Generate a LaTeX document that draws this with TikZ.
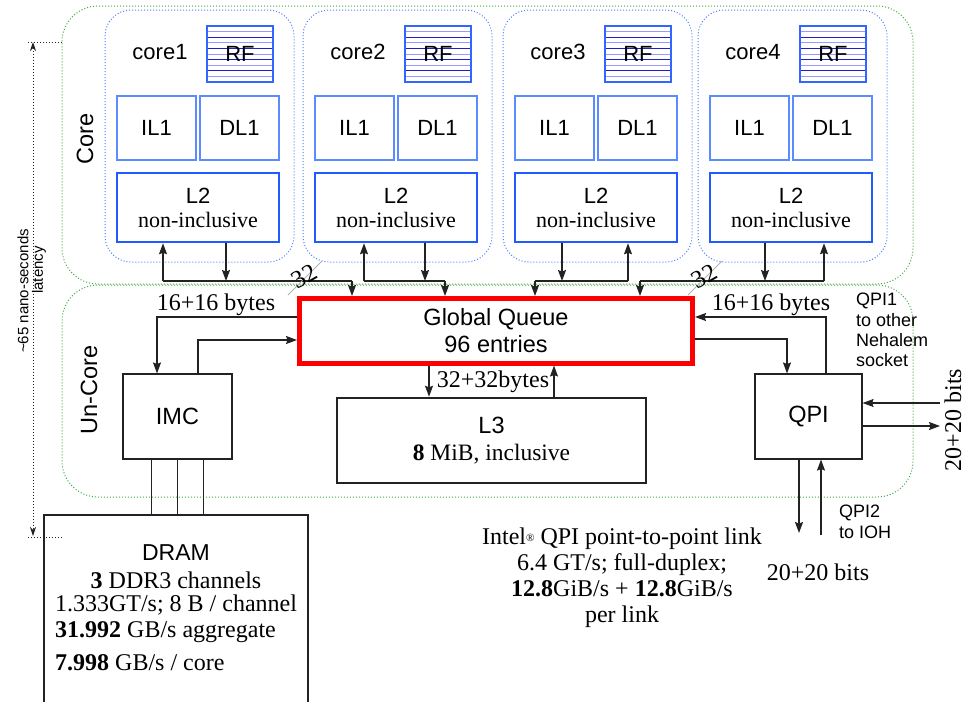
\documentclass[tikz,border=0pt]{standalone}
\usepackage{fontspec}
\setmainfont{Liberation Serif}
\setsansfont{Liberation Sans}
\usetikzlibrary{arrows.meta}
\definecolor{rgreen}{HTML}{3DAA3D}
\definecolor{cblue}{HTML}{4A7DFF}
\definecolor{l1blue}{HTML}{5B8CFF}
\definecolor{l2blue}{HTML}{1F5BFF}
\definecolor{rfblue}{HTML}{3366FF}
\definecolor{hlight}{HTML}{9999FF}
\definecolor{hdark}{HTML}{2020C8}
\definecolor{ink}{HTML}{222222}
\tikzset{
  every node/.style={inner sep=0pt},
  arr/.style={draw=ink, line width=1.2pt, -{Stealth[length=11pt,width=8pt,inset=1.5pt]}},
  ln/.style={draw=ink, line width=1.2pt},
  region/.style={draw=rgreen, dotted, line width=1pt, rounded corners=36pt},
  corebox/.style={draw=cblue, dotted, line width=1pt, rounded corners=26pt},
  lonebox/.style={draw=l1blue, line width=1.5pt},
  ltwobox/.style={draw=l2blue, line width=2.5pt},
  plainbox/.style={draw=ink, line width=1.1pt},
  heavybox/.style={draw=ink, line width=2.5pt},
  sftxt/.style={font=\sffamily\fontsize{22}{26}\selectfont},
  bigsf/.style={font=\sffamily\fontsize{23.5}{27}\selectfont},
  sertxt/.style={font=\fontsize{24}{26}\selectfont},
  smalltxt/.style={font=\sffamily\fontsize{18}{20.3}\selectfont},
  slash/.style={draw=black!30, line width=0.8pt},
  latency/.style={draw=ink, dotted, line width=1pt},
}
\begin{document}
\begin{tikzpicture}[x=1pt,y=-1pt]
\useasboundingbox (0,0) rectangle (973,702);

% regions
\node[region, minimum width=851, minimum height=278] (coreregion) at (487.5,145) {};
\node[region, minimum width=851, minimum height=212] (uncore) at (487.5,391) {};
\node[bigsf, rotate=90] (corelbl) at (85,139) {Core};
\node[bigsf, rotate=90] (uncorelbl) at (89,390) {Un-Core};

% cores
\foreach \i/\L/\u/\d/\g in {1/105/163/226/352, 2/303/364/425/445, 3/503/628/562/535, 4/698/824/765/640} {
  \node[corebox, minimum width=189, minimum height=252] (core\i) at (\L+94.5,136) {};
  \node[sftxt] (clabel\i) at (\L+55,52) {core\i};
  \node[draw=rfblue, line width=1.5pt, minimum width=66, minimum height=56] (rf\i) at (\L+135,54) {};
  \foreach \k in {1,3,5,7,9} \draw[hlight, line width=1pt] (\L+102.8,26+5.6*\k) -- (\L+167.2,26+5.6*\k);
  \foreach \k in {2,4,6,8} \draw[hdark, line width=1pt] (\L+102.8,26+5.6*\k) -- (\L+167.2,26+5.6*\k);
  \node[sftxt] (rflabel\i) at (rf\i) {RF};
  \node[lonebox, sftxt, minimum width=79, minimum height=64] (il\i) at (\L+51.5,128) {IL1};
  \node[lonebox, sftxt, minimum width=79, minimum height=64] (dl\i) at (\L+134.5,128) {DL1};
  \node[ltwobox, minimum width=162, minimum height=69, align=center, font=\fontsize{22}{24}\selectfont] (ltwo\i) at (\L+93,207.5) {{\sffamily L2}\\non-inclusive};
  \coordinate (bu\i) at (\u,281);
  \coordinate (bd\i) at (\d,281);
  \coordinate (bg\i) at (\g,281);
  \draw[arr] (bu\i) -- (bu\i |- ltwo\i.south);
  \draw[arr] (bd\i |- ltwo\i.south) -- (bd\i);
  \draw[ln] (bu\i) -- (bg\i);
}

% global queue
\node[draw=red, line width=5pt, minimum width=393, minimum height=64.5, align=center, bigsf] (gq) at (496,330.75) {Global Queue\\96 entries};
\foreach \i in {1,...,4} \draw[arr] (bg\i) -- (bg\i |- gq.north);

% 32 markers
\coordinate (s1a) at (288,295); \coordinate (s1b) at (322,261);
\coordinate (s2a) at (688,295); \coordinate (s2b) at (722,261);
\draw[slash] (s1a) -- (s1b);
\draw[slash] (s2a) -- (s2b);
\node[font=\fontsize{25}{26}\selectfont, rotate=30] (w32a) at (304,276) {32};
\node[font=\fontsize{25}{26}\selectfont, rotate=30] (w32b) at (704,276) {32};

% L3
\node[heavybox, minimum width=309, minimum height=85, align=center, font=\fontsize{23.5}{27}\selectfont] (l3) at (491.5,440.5) {{\sffamily L3}\\\textbf{8} MiB, inclusive};
\coordinate (a5) at (429,380);
\coordinate (a6) at (554,380);
\draw[arr] (a5 |- gq.south) -- (a5 |- l3.north);
\draw[arr] (a6 |- l3.north) -- (a6 |- gq.south);
\node[sertxt] (b32) at (493,382) {32+32bytes};

% IMC
\node[plainbox, bigsf, minimum width=109, minimum height=85] (imc) at (177.5,416.5) {IMC};
\coordinate (a1) at (157,317);
\coordinate (a2) at (198,340);
\draw[arr] (a1 -| gq.west) -- (a1) -- (a1 |- imc.north);
\draw[arr] (a2 |- imc.north) -- (a2) -- (a2 -| gq.west);
\node[sertxt] (b16l) at (216,305) {16+16 bytes};

% QPI
\node[plainbox, bigsf, minimum width=107, minimum height=85] (qpi) at (808.5,416.5) {QPI};
\coordinate (a3) at (826,317);
\coordinate (a4) at (787,339);
\draw[arr] (a3 |- qpi.north) -- (a3) -- (a3 -| gq.east);
\draw[arr] (a4 -| gq.east) -- (a4) -- (a4 |- qpi.north);
\node[sertxt] (b16r) at (771,305) {16+16 bytes};
\coordinate (qin) at (940,403);
\coordinate (qout) at (940,426);
\draw[arr] (qin) -- (qin -| qpi.east);
\draw[arr] (qout -| qpi.east) -- (qout);
\coordinate (qd) at (799,533);
\coordinate (qu) at (821,535);
\draw[arr] (qd |- qpi.south) -- (qd);
\draw[arr] (qu) -- (qu |- qpi.south);
\node[sertxt, rotate=90] (bits1) at (953,420) {20+20 bits};
\node[sertxt] (bits2) at (818,572) {20+20 bits};
\node[smalltxt, anchor=north west, align=left] (qpione) at (856,293) {QPI1\\to other\\Nehalem\\socket};
\node[smalltxt, anchor=north west, align=left] (qpitwo) at (839,505) {QPI2\\to IOH};

% Intel text
\node[sertxt, align=center] (intel) at (622,578) {Intel{\fontsize{11}{11}\selectfont\raisebox{3pt}{\textregistered}} QPI point-to-point link\\6.4 GT/s; full-duplex;\\\textbf{12.8}GiB/s + \textbf{12.8}GiB/s\\per link};

% DRAM
\node[minimum width=264, minimum height=187, outer sep=0pt] (dram) at (176,608.5) {};
\draw[heavybox] (dram.south west) -- (dram.north west) -- (dram.north east) -- (dram.south east);
\coordinate (m1) at ([xshift=-26pt]imc.south);
\coordinate (m2) at (imc.south);
\coordinate (m3) at ([xshift=26pt]imc.south);
\draw[ln] (m1) -- (m1 |- dram.north);
\draw[ln] (m2) -- (m2 |- dram.north);
\draw[ln] (m3) -- (m3 |- dram.north);
\node[font=\sffamily\fontsize{23}{26}\selectfont] (dramt) at (176,553) {DRAM};
\node[sertxt] (dr1) at (176,580) {\textbf{3} DDR3 channels};
\node[sertxt] (dr2) at (176,605) {1.333GT/s; 8 B / channel};
\node[sertxt, anchor=west] (dr3) at (55,632) {\textbf{31.992} GB/s aggregate};
\node[sertxt, anchor=west] (dr4) at (55,663) {\textbf{7.998} GB/s / core};

% latency
\coordinate (lt) at (33,42);
\coordinate (lb) at (33,536);
\draw[latency, {Stealth[length=9pt,width=6pt]}-{Stealth[length=9pt,width=6pt]}] (lt) -- (lb);
\coordinate (tt) at (28,42);
\coordinate (tb) at (28,537);
\draw[latency] (tt) -- (tt -| coreregion.west);
\draw[latency] (tb) -- (tb -| uncore.west);
\node[rotate=90, font=\sffamily\fontsize{15}{17}\selectfont] (lat1) at (23,291) {\textasciitilde 65 nano-seconds};
\node[rotate=90, font=\sffamily\fontsize{15}{17}\selectfont] (lat2) at (39,270) {latency};
\end{tikzpicture}
\end{document}
